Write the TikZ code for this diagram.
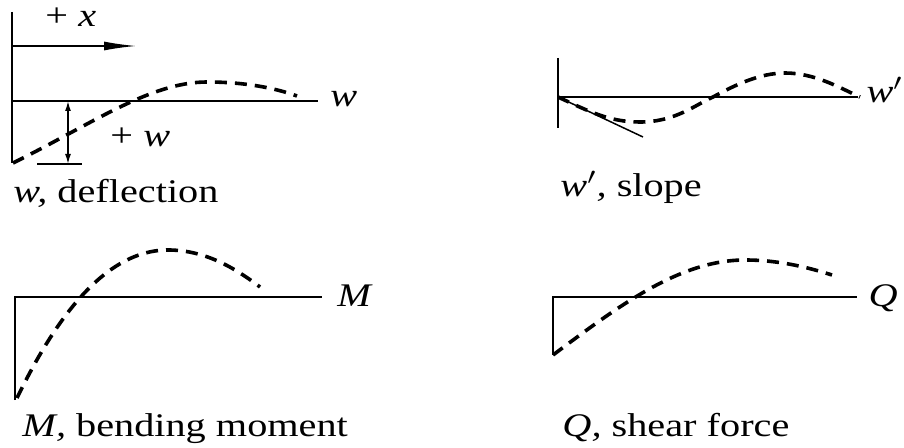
\documentclass[tikz,border=0pt]{standalone}
\usepackage{fontspec}
\setmainfont{Liberation Serif}
\usetikzlibrary{arrows.meta}

\tikzset{
  axis/.style={line width=0.75pt},
  curve/.style={line width=1.8pt, dash pattern=on 6pt off 4pt},
  lbl/.style={font=\fontsize{16.5}{18}\selectfont, xscale=1.22, inner sep=0pt, anchor=base west},
}

\begin{document}
\begin{tikzpicture}[x=0.5pt, y=-0.5pt]
  \useasboundingbox (0,0) rectangle (904,448);

  % deflection
  \coordinate (dtop) at (12,12);
  \coordinate (dbot) at (12,163);
  \coordinate (do)   at (12,101);
  \coordinate (dend) at (318,101);
  \coordinate (xa)   at (12,46);
  \coordinate (xb)   at (136,46);
  \coordinate (wa)   at (68,101);
  \coordinate (wb)   at (68,164);
  \coordinate (ta)   at (37,164);
  \coordinate (tb)   at (82,164);
  \node[lbl] (xlab)  at (45,27)   {+ \textit{x}};
  \node[lbl] (wlab)  at (110,147) {+ \textit{w}};
  \node[lbl] (waxis) at (330,107) {\textit{w}};
  \node[lbl] (dcap)  at (13,203)  {\textit{w,} deflection};
  \draw[axis] (dtop) -- (dbot);
  \draw[axis] (do) -- (dend);
  \draw[axis, -{Latex[length=16pt,width=4.5pt]}] (xa) -- (xb);
  \draw[axis, {Latex[length=5pt,width=3pt]}-{Latex[length=5pt,width=3pt]}] (wa) -- (wb);
  \draw[axis] (ta) -- (tb);
  \draw[curve] (13,163) .. controls (90,125) and (150,82) .. (207,82)
               .. controls (245,82) and (275,88) .. (297,96);

  % slope
  \coordinate (stop) at (558,58);
  \coordinate (sbot) at (558,128);
  \coordinate (so)   at (558,97);
  \coordinate (send) at (858,97);
  \coordinate (tang) at (643,137);
  \node[lbl] (saxis) at (866,103) {\textit{w}$'$};
  \node[lbl] (scap)  at (560,197) {\textit{w}$'$\textit{,} slope};
  \draw[axis] (stop) -- (sbot);
  \draw[axis] (so) -- (send);
  \draw[axis] (so) -- (tang);
  \draw[curve] (558,97) .. controls (590,112) and (610,122) .. (640,122)
               .. controls (675,122) and (695,105) .. (713,97)
               .. controls (735,85) and (760,73) .. (785,73)
               .. controls (815,73) and (840,88) .. (860,97);

  % bending moment
  \coordinate (mbot) at (15,400);
  \coordinate (mo)   at (15,297);
  \coordinate (mend) at (322,297);
  \node[lbl] (maxis) at (337,307) {\textit{M}};
  \node[lbl] (mcap)  at (22,437)  {\textit{M,} bending moment};
  \draw[axis] (mbot) -- (mo) -- (mend);
  \draw[curve] (17,398) .. controls (50,330) and (100,250) .. (168,250)
               .. controls (205,250) and (235,268) .. (260,287);

  % shear force
  \coordinate (qbot) at (553,355);
  \coordinate (qo)   at (553,297);
  \coordinate (qend) at (857,297);
  \node[lbl] (qaxis) at (868,307) {\textit{Q}};
  \node[lbl] (qcap)  at (562,437) {\textit{Q,} shear force};
  \draw[axis] (qbot) -- (qo) -- (qend);
  \draw[curve] (553,355) .. controls (620,305) and (680,260) .. (745,260)
               .. controls (780,260) and (810,268) .. (832,275);
\end{tikzpicture}
\end{document}
